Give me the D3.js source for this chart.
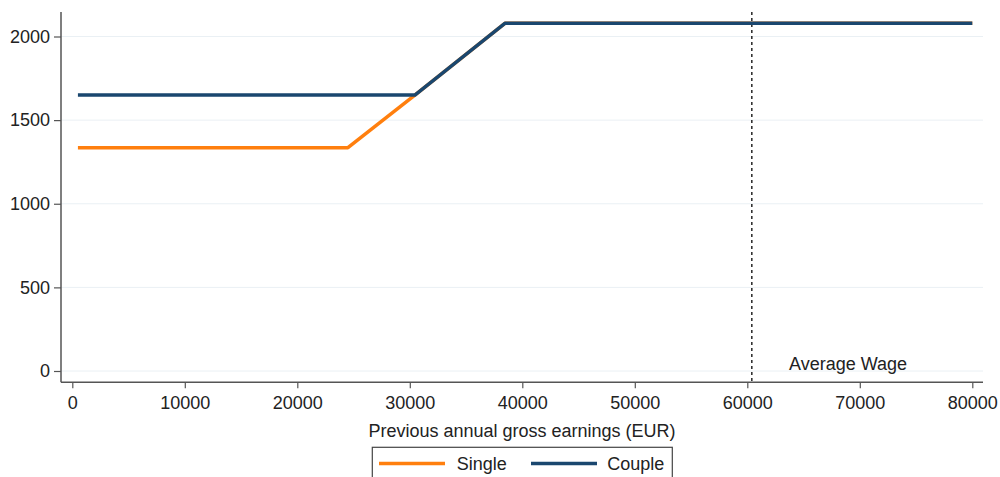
<!DOCTYPE html>
<html><head><meta charset="utf-8">
<script src="https://cdn.jsdelivr.net/npm/d3@7"></script>
<style>body{margin:0;background:#fff;} text{font-family:"Liberation Sans",Arial,sans-serif;}</style>
</head><body><svg id="c" width="1000" height="477"></svg>
<script>
const xTicks = [0,10000,20000,30000,40000,50000,60000,70000,80000];
const yTicks = [0,500,1000,1500,2000];
const singleEarnings = [500, 24500, 30450, 38450, 80000];
const singleBenefit  = [1335, 1335, 1650, 2079, 2079];
const coupleEarnings = [500, 30450, 38450, 80000];
const coupleBenefit  = [1650, 1650, 2079, 2079];
const averageWage = 60400;
const seriesNames = ["Single","Couple"];
const seriesColors = ["#ff7f0e","#1a476f"];

(function(){
const FS = 18;
const svg = d3.select("#c");
const x = d3.scaleLinear().domain([0,80000]).range([72.3,972.3]);
const y = d3.scaleLinear().domain([0,2000]).range([371,36.5]);
const pL = 61, pR = 983, pT = 12, pB = 382.3;

// gridlines
svg.append("g").selectAll("line").data(yTicks).join("line")
  .attr("x1",pL).attr("x2",pR).attr("y1",d=>y(d)).attr("y2",d=>y(d))
  .attr("stroke","#eaf0f4").attr("stroke-width",1);

// y axis
const ya = svg.append("g").attr("transform",`translate(${pL},0)`)
  .call(d3.axisLeft(y).tickValues(yTicks).tickSize(7).tickPadding(4).tickFormat(d3.format("d")));
ya.select(".domain").attr("d",`M0,${pT}V${pB}`).attr("stroke","#555").attr("stroke-width",1.5);
ya.selectAll(".tick line").attr("stroke","#555").attr("stroke-width",1.2);
ya.selectAll(".tick text").attr("font-size",FS).attr("fill","#222").attr("font-family","Liberation Sans, Arial, sans-serif");

// x axis
const xa = svg.append("g").attr("transform",`translate(0,${pB})`)
  .call(d3.axisBottom(x).tickValues(xTicks).tickSize(6).tickPadding(5).tickFormat(d3.format("d")));
xa.select(".domain").attr("d",`M${pL},0H${pR}`).attr("stroke","#555").attr("stroke-width",1.5);
xa.selectAll(".tick line").attr("stroke","#555").attr("stroke-width",1.2);
xa.selectAll(".tick text").attr("font-size",FS).attr("fill","#222").attr("dy","0.85em").attr("font-family","Liberation Sans, Arial, sans-serif");

svg.append("text").attr("x",522).attr("y",437).attr("text-anchor","middle")
  .attr("font-size",FS).attr("fill","#222").text("Previous annual gross earnings (EUR)");

// average wage line
svg.append("line").attr("x1",x(averageWage)).attr("x2",x(averageWage))
  .attr("y1",pT).attr("y2",pB).attr("stroke","#333").attr("stroke-width",1.6)
  .attr("stroke-dasharray","3,3");
svg.append("text").attr("x",789).attr("y",370).attr("font-size",FS).attr("fill","#222").text("Average Wage");

const line = d3.line().x(d=>x(d[0])).y(d=>y(d[1]));
const sData = singleEarnings.map((e,i)=>[e,singleBenefit[i]]);
const cData = coupleEarnings.map((e,i)=>[e,coupleBenefit[i]]);
svg.append("path").datum(sData).attr("d",line).attr("fill","none")
  .attr("stroke",seriesColors[0]).attr("stroke-width",3.5).attr("stroke-linejoin","round");
svg.append("path").datum(cData).attr("d",line).attr("fill","none")
  .attr("stroke",seriesColors[1]).attr("stroke-width",3.5).attr("stroke-linejoin","round");

// legend
svg.append("rect").attr("x",372.3).attr("y",447.3).attr("width",300).attr("height",40)
  .attr("fill","#fff").attr("stroke","#444").attr("stroke-width",1.2);
const lg = [{x1:379,x2:445,tx:456.7},{x1:531,x2:597,tx:607.3}];
lg.forEach((l,i)=>{
  svg.append("line").attr("x1",l.x1).attr("x2",l.x2).attr("y1",463.5).attr("y2",463.5)
    .attr("stroke",seriesColors[i]).attr("stroke-width",3.5);
  svg.append("text").attr("x",l.tx).attr("y",470).attr("font-size",FS).attr("fill","#222").text(seriesNames[i]);
});
})();
</script></body></html>
